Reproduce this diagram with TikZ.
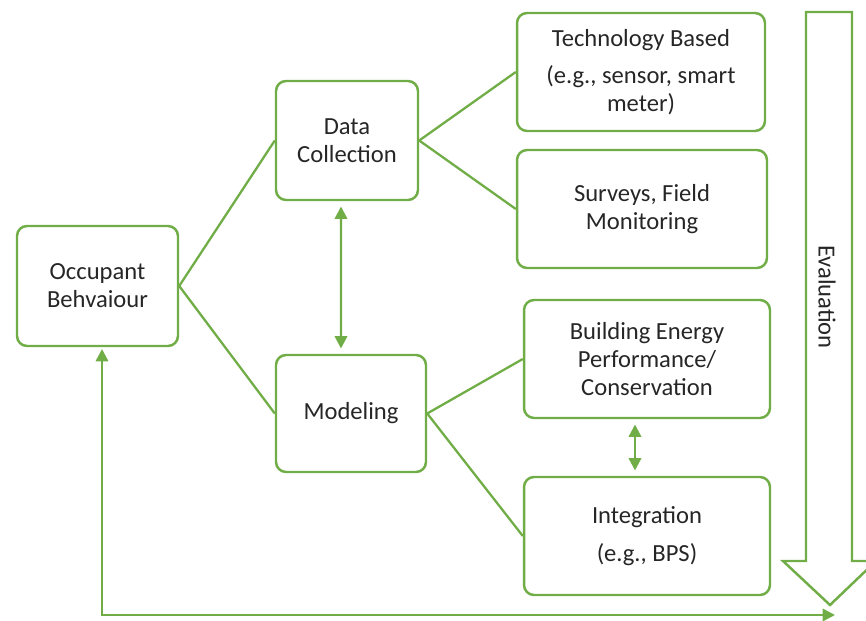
\documentclass[tikz,border=0pt]{standalone}
\usepackage{fontspec}
\setmainfont{Carlito}
\usetikzlibrary{positioning,calc,arrows.meta}
\definecolor{ogreen}{RGB}{112,173,71}
\tikzset{font=\fontsize{14}{16}\selectfont}
\tikzset{
	box/.style={draw=ogreen, line width=1.4pt, rounded corners=0.2cm, align=center, text=black!85, inner sep=1pt},
	link/.style={draw=ogreen, line width=1.3pt},
	tip/.style={link, {Triangle[length=7pt,width=7pt]}-{Triangle[length=7pt,width=7pt]}}
}

\begin{document}
\begin{tikzpicture}[x=0.02cm, y=-0.02cm]
	\clip (0,0) rectangle (866,621);
	\useasboundingbox (0,0) rectangle (866,621);

	\node[box, minimum width=3.22cm, minimum height=2.4cm] (occ) at (97.5, 286) {Occupant\\Behvaiour};

	\node[box, minimum width=2.84cm, minimum height=2.38cm] (dc) at (347, 140.5) {Data\\Collection};
	\node[box, minimum width=3.0cm, minimum height=2.34cm] (mod) at (351, 413.5) {Modeling};

	\node[box, minimum width=4.96cm, minimum height=2.36cm] (tech) at (641, 72) {Technology Based\\[5pt](e.g., sensor, smart\\meter)};
	\node[box, minimum width=5.0cm, minimum height=2.36cm] (surv) at (642, 209) {Surveys, Field\\Monitoring};
	\node[box, minimum width=4.92cm, minimum height=2.36cm] (bep) at (647, 359) {Building Energy\\Performance/\\Conservation};
	\node[box, minimum width=4.92cm, minimum height=2.36cm] (integ) at (647, 536) {Integration\\[6pt](e.g., BPS)};

	% evaluation arrow
	\draw[ogreen, line width=1.4pt, line join=miter] (806,12) -- (852,12) -- (852,561) -- (876,561) -- (830,605) -- (783,561) -- (806,561) -- cycle;
	\node[rotate=-90, text=black!85] (eval) at (827, 297) {Evaluation};

	\draw[link] (occ.east) to (dc.west);
	\draw[link] (occ.east) to (mod.west);
	\draw[link] (dc.east) to (tech.west);
	\draw[link] (dc.east) to (surv.west);
	\draw[link] (mod.east) to (bep.west);
	\draw[link] (mod.east) to (integ.west);

	\draw[tip, shorten <=3pt, shorten >=3pt] ([xshift=-0.12cm]dc.south) to ([xshift=-0.2cm]mod.north);
	\draw[tip, shorten <=3pt, shorten >=3pt] ([xshift=-0.24cm]bep.south) to ([xshift=-0.24cm]integ.north);

	\coordinate (fb) at (835, 615);
	\draw[tip, shorten <=1pt] ([xshift=0.09cm]occ.south) |- (fb);
\end{tikzpicture}
\end{document}
